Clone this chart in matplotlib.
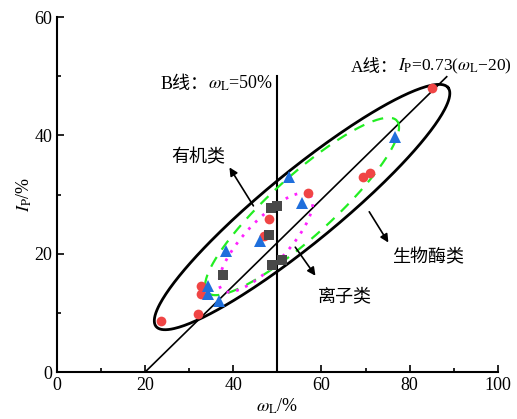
import numpy as np
import matplotlib
matplotlib.use("Agg")
import matplotlib.pyplot as plt

plt.rcParams["font.family"] = ["Liberation Serif", "Noto Sans CJK SC"]
plt.rcParams["mathtext.fontset"] = "stix"
plt.rcParams["axes.unicode_minus"] = False

# data (liquid limit wL %, plasticity index IP %)
red_wl = [23.6, 31.9, 32.6, 32.6, 47.0, 48.1, 56.9, 69.5, 71.0, 85.1]
red_ip = [8.6, 9.9, 14.6, 13.2, 23.0, 25.8, 30.2, 32.9, 33.7, 48.1]

blue_wl = [34.2, 34.2, 36.7, 38.4, 46.0, 52.6, 55.6, 76.6]
blue_ip = [14.6, 13.2, 12.0, 20.5, 22.2, 33.0, 28.6, 39.7]

grey_wl = [37.6, 48.1, 48.5, 49.9, 48.8, 51.1]
grey_ip = [16.4, 23.1, 27.8, 28.1, 18.1, 19.0]

# A line: IP = 0.73 (wL - 20)
a_slope = 0.73
a_x0 = 20
a_x1 = 88.4
b_x = 50
b_top = 50

# ellipses: centre, half major vector, half minor vector (data units)
ell_black = ((55.6, 27.9), (33.1, 20.2), (5.2, -4.7))
ell_green = ((55.6, 28.0), (21.5, 14.5), (4.6, -3.85))
ell_pink = ((47.4, 21.9), (10.0, 8.0), (3.6, -2.5))


def ellipse(spec):
    c, u, v = spec
    t = np.linspace(0, 2 * np.pi, 300)
    x = c[0] + u[0] * np.cos(t) + v[0] * np.sin(t)
    y = c[1] + u[1] * np.cos(t) + v[1] * np.sin(t)
    return x, y


fig = plt.figure(figsize=(5.17, 4.19), dpi=100)
ax = fig.add_axes([0.110, 0.112, 0.853, 0.847])

# A line and B line
xa = np.array([a_x0, a_x1])
ax.plot(xa, a_slope * (xa - 20), color="black", lw=1.2)
ax.plot([b_x, b_x], [0, b_top], color="black", lw=1.5)

x, y = ellipse(ell_black)
ax.plot(x, y, color="black", lw=2)
x, y = ellipse(ell_green)
ax.plot(x, y, color="#22ee22", lw=1.6, ls=(0, (5, 4)))
x, y = ellipse(ell_pink)
ax.plot(x, y, color="#ff22ff", lw=2, ls=(0, (1, 2.5)))

ax.plot(red_wl, red_ip, "o", color="#f04545", ms=7, mew=0)
ax.plot(blue_wl, blue_ip, "^", color="#1f6fdc", ms=8, mew=0)
ax.plot(grey_wl, grey_ip, "s", color="#484848", ms=6.5, mew=0)

# labels with arrows
arrow = dict(arrowstyle="-|>", color="black", lw=1.2, mutation_scale=12)
ax.annotate("", xy=(38.8, 35.0), xytext=(44.9, 27.7), arrowprops=arrow)
ax.annotate("", xy=(75.5, 21.5), xytext=(70.5, 27.5), arrowprops=arrow)
ax.annotate("", xy=(59.0, 15.9), xytext=(53.7, 21.5), arrowprops=arrow)
ax.text(32.0, 36.3, "有机类", fontsize=13, ha="center", va="center")
ax.text(84.2, 19.4, "生物酶类", fontsize=13, ha="center", va="center")
ax.text(65.2, 12.7, "离子类", fontsize=13, ha="center", va="center")

# chinese part and math part as separate texts (mathtext has no CJK glyphs)
tb = ax.text(23.4, 47.8, "B线：", fontsize=13, ha="left", va="baseline")
ax.annotate("$\\omega_\\mathrm{L}$=50%", xy=(1, 0), xycoords=tb,
            fontsize=13, ha="left", va="bottom")
ta = ax.text(66.6, 50.8, "A线：", fontsize=12.5, ha="left", va="baseline")
ax.annotate("$I_\\mathrm{P}$=0.73($\\omega_\\mathrm{L}$−20)", xy=(1, 0),
            xycoords=ta, fontsize=12.5, ha="left", va="bottom")

ax.set_xlim(0, 100)
ax.set_ylim(0, 60)
ax.set_xticks([0, 20, 40, 60, 80, 100])
ax.set_yticks([0, 20, 40, 60])
ax.set_xticks([10, 30, 50, 70, 90], minor=True)
ax.set_yticks([10, 30, 50], minor=True)
ax.tick_params(direction="in", length=5, width=1.2, labelsize=13)
ax.tick_params(which="minor", direction="in", length=3, width=1.2)
ax.spines["top"].set_visible(False)
ax.spines["right"].set_visible(False)
ax.spines["left"].set_linewidth(1.5)
ax.spines["bottom"].set_linewidth(1.5)
ax.set_xlabel("$\\omega_\\mathrm{L}$/%", fontsize=13, labelpad=2)
ax.set_ylabel("$I_\\mathrm{P}$/%", fontsize=13, labelpad=0)

fig.savefig("out.png", dpi=100)
